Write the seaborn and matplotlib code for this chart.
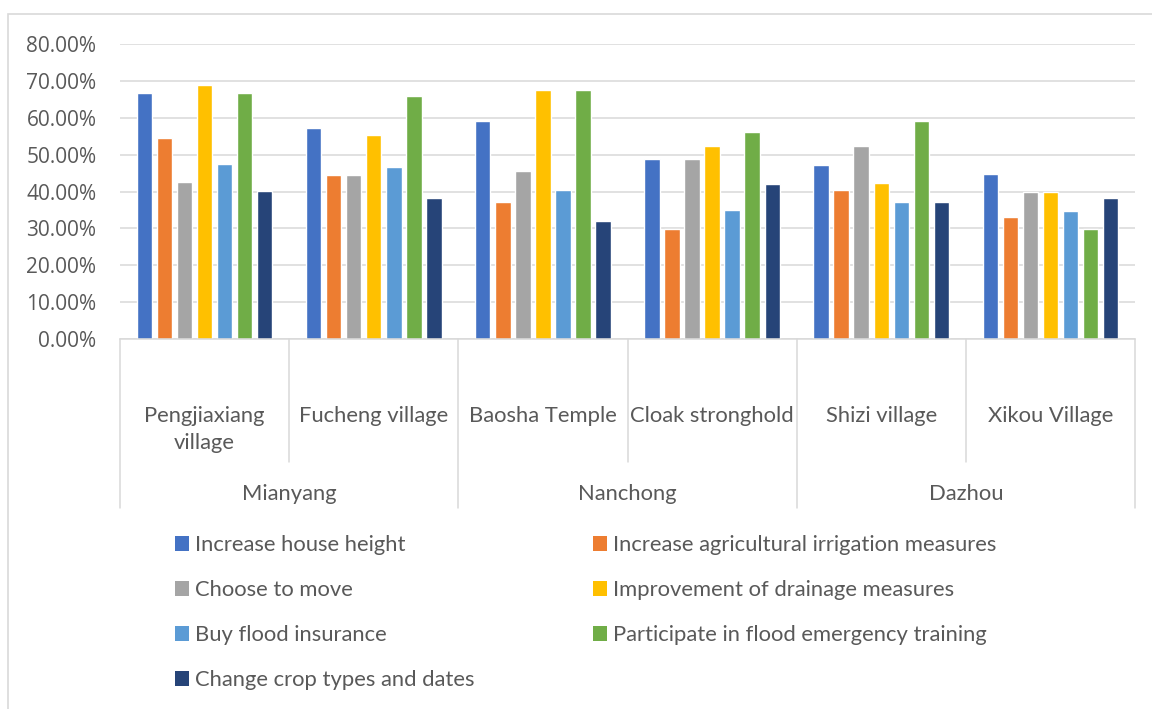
import matplotlib
matplotlib.use("Agg")
import matplotlib.pyplot as plt
import matplotlib.transforms as mtransforms
from matplotlib.patches import Patch, Rectangle
from matplotlib.ticker import FuncFormatter, MultipleLocator
import seaborn as sns
import pandas as pd

# ---------------- data ----------------
villages = ["Pengjiaxiang\nvillage", "Fucheng village", "Baosha Temple",
            "Cloak stronghold", "Shizi village", "Xikou Village"]
cities = ["Mianyang", "Nanchong", "Dazhou"]
villages_per_city = [2, 2, 2]

measures = ["Increase house height", "Increase agricultural irrigation measures",
            "Choose to move", "Improvement of drainage measures",
            "Buy flood insurance", "Participate in flood emergency training",
            "Change crop types and dates"]

house_height = [0.667, 0.573, 0.592, 0.489, 0.473, 0.448]
irrigation   = [0.546, 0.445, 0.371, 0.297, 0.404, 0.331]
move         = [0.427, 0.445, 0.456, 0.489, 0.524, 0.398]
drainage     = [0.689, 0.552, 0.676, 0.524, 0.422, 0.398]
insurance    = [0.475, 0.467, 0.404, 0.349, 0.372, 0.348]
training     = [0.667, 0.658, 0.676, 0.560, 0.592, 0.297]
crop         = [0.402, 0.382, 0.320, 0.420, 0.372, 0.382]

series = [house_height, irrigation, move, drainage, insurance, training, crop]
colors = ["#4472C4", "#ED7D31", "#A5A5A5", "#FFC000", "#5B9BD5", "#70AD47", "#264478"]

rows = []
for m, vals in zip(measures, series):
    for v, val in zip(villages, vals):
        rows.append({"village": v, "measure": m, "value": val})
df = pd.DataFrame(rows)

# ---------------- figure ----------------
sns.set_theme(style="white")
plt.rcParams["font.family"] = ["Lato", "DejaVu Sans"]
TXT = "#595959"
GRID = "#D9D9D9"
FS = 15.8

W, H = 1152, 709
fig = plt.figure(figsize=(W / 100, H / 100), dpi=100)
fig.patch.set_facecolor("white")

# chart border (light gray)
fig.add_artist(Rectangle((8 / W, -0.1), 1.2, (H - 14) / H + 0.1, transform=fig.transFigure,
                         fill=False, edgecolor=GRID, linewidth=1.2))

left, right, top, bottom = 120, 1135, 44, 339
ax = fig.add_axes([left / W, (H - bottom) / H, (right - left) / W, (bottom - top) / H])

sns.barplot(data=df, x="village", y="value", hue="measure", order=villages,
            hue_order=measures, palette=colors, saturation=1, width=0.83, gap=0.23,
            errorbar=None, legend=False, ax=ax)

ax.set_ylim(0, 0.8)
ax.set_xlim(-0.5, len(villages) - 0.5)
ax.yaxis.set_major_locator(MultipleLocator(0.1))
ax.yaxis.set_major_formatter(FuncFormatter(lambda v, _: f"{v * 100:.2f}%"))
ax.yaxis.grid(True, color=GRID, linewidth=1.1)
ax.set_axisbelow(True)
ax.tick_params(axis="y", length=0, pad=17, labelsize=15, labelcolor=TXT)
for lab in ax.get_yticklabels():
    lab.set_fontfamily(["Open Sans", "DejaVu Sans"])
ax.tick_params(axis="x", length=0, labelbottom=False)
ax.set_xlabel("")
ax.set_ylabel("")
for s in ["left", "right", "top"]:
    ax.spines[s].set_visible(False)
ax.spines["bottom"].set_color(GRID)
ax.spines["bottom"].set_linewidth(1.1)

# multi-level category axis
trans = mtransforms.blended_transform_factory(ax.transData, ax.transAxes)
ph = bottom - top
inner_end = -(462 - bottom) / ph
outer_end = -(508 - bottom) / ph
boundaries = [0]
for n in villages_per_city:
    boundaries.append(boundaries[-1] + n)
for i in range(len(villages) + 1):
    yb = outer_end if i in boundaries else inner_end
    ax.plot([i - 0.5, i - 0.5], [0, yb], transform=trans, clip_on=False,
            color=GRID, linewidth=1.1)

for i, v in enumerate(villages):
    ax.text(i, -(406 - bottom) / ph, v, transform=trans, ha="center", va="top",
            fontsize=FS, color=TXT, linespacing=1.45)

for k, c in enumerate(cities):
    center = (boundaries[k] + boundaries[k + 1] - 1) / 2
    ax.text(center, -(500 - bottom) / ph, c, transform=trans, ha="center",
            va="baseline", fontsize=FS, color=TXT)

# legend
handles = [Patch(facecolor=col, edgecolor="none", label=m) for col, m in zip(colors, measures)]
order = [0, 2, 4, 6, 1, 3, 5]
leg = fig.legend([handles[i] for i in order], [measures[i] for i in order],
                 loc="upper left", bbox_to_anchor=(175 / W, (H - 535) / H),
                 ncol=2, frameon=False, fontsize=FS, labelcolor=TXT,
                 handlelength=0.64, handleheight=0.64, handletextpad=0.28,
                 labelspacing=1.14, columnspacing=5.4, borderpad=0, borderaxespad=0)

fig.savefig("out.png", dpi=100)
